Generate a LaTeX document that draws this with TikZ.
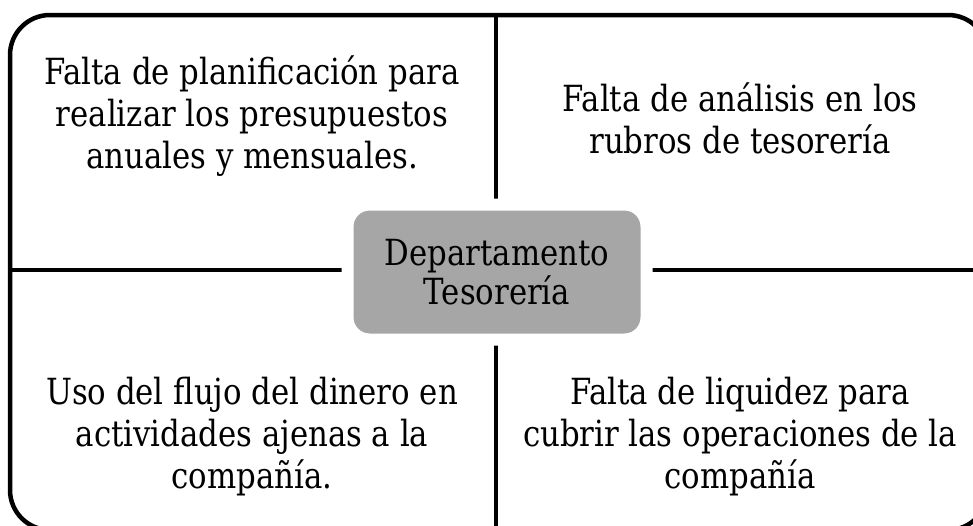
\documentclass[tikz,border=0pt]{standalone}
\usepackage{fontspec}
\setmainfont[FakeStretch=0.95]{DejaVu Serif Condensed}
\begin{document}
\begin{tikzpicture}[x=1pt,y=-1pt,
  frame/.style={line width=4.5pt, rounded corners=40pt},
  divider/.style={line width=4pt},
  celltext/.style={align=center, font=\fontsize{36}{42}\selectfont, inner sep=0pt},
  hub/.style={fill=hubgray, draw=white, line width=12pt, rounded corners=22pt,
    minimum width=299pt, minimum height=135pt, align=center,
    font=\fontsize{36}{39}\selectfont}]
\definecolor{hubgray}{HTML}{A6A6A6}
\useasboundingbox (0,0) rectangle (973,525);
\clip (0,0) rectangle (973,525);
\draw[frame] (10,15) rectangle (988,530);
\coordinate (vt) at (496,15);
\coordinate (vb) at (496,530);
\coordinate (hl) at (10,270);
\coordinate (hr) at (988,270);
\draw[divider] (vt) -- (vb);
\draw[divider] (hl) -- (hr);
\node[hub] (hubnode) at (497,272) {Departamento\\Tesorería};
\node[celltext] (tl) at (252,116) {Falta de planificación para\\realizar los presupuestos\\anuales y mensuales.};
\node[celltext] (tr) at (740,118) {Falta de análisis en los\\rubros de tesorería};
\node[celltext] (bl) at (252,437) {Uso del flujo del dinero en\\actividades ajenas a la\\compañía.};
\node[celltext] (br) at (740,437) {Falta de liquidez para\\cubrir las operaciones de la\\compañía};
\end{tikzpicture}
\end{document}
